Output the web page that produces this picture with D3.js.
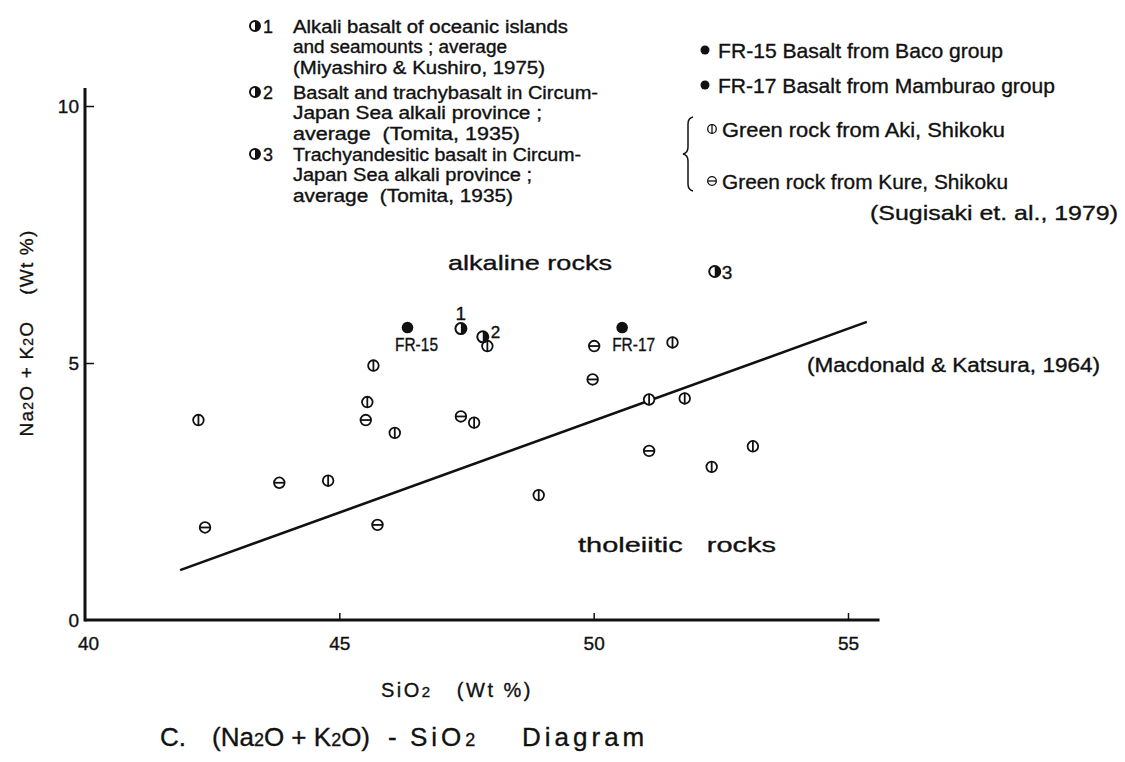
<!DOCTYPE html>
<html>
<head>
<meta charset="utf-8">
<script src="https://cdn.jsdelivr.net/npm/d3@7"></script>
<style>
  html, body { margin: 0; padding: 0; background: #fff; }
  svg { display: block; }
  text { font-family: "Liberation Sans", Arial, sans-serif; fill: #111; white-space: pre;
         stroke: #111; stroke-width: 0.35px; }
</style>
</head>
<body>
<svg id="chart" width="1125" height="762"></svg>
<script>
// ---------------- data ----------------
const xTicks = [40, 45, 50, 55];
const yTicks = [0, 5, 10];

// Green rock from Aki, Shikoku (Φ)
const akiSiO2 = [42.23, 45.67, 45.55, 46.09, 47.65, 47.91, 44.78, 48.92, 51.55, 51.09, 51.79, 53.13, 52.32];
const akiAlk  = [3.89, 4.95, 4.24, 3.64, 3.84, 5.33, 2.71, 2.43, 5.40, 4.29, 4.31, 3.38, 2.98];

// Green rock from Kure, Shikoku (Θ)
const kureSiO2 = [42.36, 43.82, 45.52, 45.75, 47.39, 50.01, 49.98, 51.09];
const kureAlk  = [1.80, 2.67, 3.89, 1.85, 3.96, 5.33, 4.68, 3.29];

// FR samples (filled)
const frNames = ["FR-15", "FR-17"];
const frSiO2  = [46.34, 50.56];
const frAlk   = [5.69, 5.69];

// Reference averages (half filled)
const refIds  = ["1", "2", "3"];
const refSiO2 = [47.39, 47.82, 52.38];
const refAlk  = [5.67, 5.51, 6.78];

// Macdonald & Katsura (1964) boundary
const boundarySiO2 = [41.87, 55.37];
const boundaryAlk  = [0.97, 5.80];

// legend texts
const refLegend = [
  ["Alkali basalt of oceanic islands", "and seamounts ; average", "(Miyashiro & Kushiro, 1975)"],
  ["Basalt and trachybasalt in Circum-", "Japan Sea alkali province ;", "average  (Tomita, 1935)"],
  ["Trachyandesitic basalt in Circum-", "Japan Sea alkali province ;", "average  (Tomita, 1935)"]
];
const sampleLegend = ["FR-15 Basalt from Baco group", "FR-17 Basalt from Mamburao group"];
const greenLegend = ["Green rock from Aki, Shikoku", "Green rock from Kure, Shikoku"];

// ---------------- drawing ----------------
const svg = d3.select("#chart");
const ink = "#111";

const x = d3.scaleLinear().domain([40, 55]).range([85, 848]);
const y = d3.scaleLinear().domain([0, 10]).range([620, 106]);
const xAxisEnd = 55.62, yAxisEnd = 10.35;

// axes
const gx = svg.append("g").attr("transform", `translate(0,${y(0)})`)
  .call(d3.axisBottom(x).tickValues(xTicks).tickSize(-7).tickPadding(17).tickFormat(d3.format("d")));
gx.select(".domain").remove();
gx.selectAll(".tick line").attr("stroke", ink).attr("stroke-width", 1.5)
  .filter(d => d === 40).remove();
gx.selectAll(".tick text").style("font-size", "19px").attr("fill", ink)
  .attr("dx", d => d === 40 ? 3 : 0);

const gy = svg.append("g").attr("transform", `translate(${x(40)},0)`)
  .call(d3.axisLeft(y).tickValues(yTicks).tickSize(-9).tickPadding(6).tickFormat(d3.format("d")));
gy.select(".domain").remove();
gy.selectAll(".tick line").attr("stroke", ink).attr("stroke-width", 1.5)
  .filter(d => d === 0).remove();
gy.selectAll(".tick text").style("font-size", "19px").attr("fill", ink);

svg.append("line")
  .attr("x1", x(40)).attr("x2", x(xAxisEnd)).attr("y1", y(0)).attr("y2", y(0))
  .attr("stroke", ink).attr("stroke-width", 3);
svg.append("line")
  .attr("x1", x(40)).attr("x2", x(40)).attr("y1", y(0) + 1.5).attr("y2", y(yAxisEnd))
  .attr("stroke", ink).attr("stroke-width", 3);

// boundary line
svg.append("path")
  .datum(boundarySiO2.map((v, i) => [v, boundaryAlk[i]]))
  .attr("d", d3.line().x(d => x(d[0])).y(d => y(d[1])))
  .attr("stroke", ink).attr("stroke-width", 2.6).attr("fill", "none");

// marker helpers
function phi(g, r, sw) {
  g.append("circle").attr("r", r).attr("fill", "#fff").attr("stroke", ink).attr("stroke-width", sw);
  g.append("line").attr("x1", 0).attr("x2", 0).attr("y1", -r - 0.5).attr("y2", r + 0.5)
    .attr("stroke", ink).attr("stroke-width", sw);
}
function theta(g, r, sw) {
  g.append("circle").attr("r", r).attr("fill", "#fff").attr("stroke", ink).attr("stroke-width", sw);
  g.append("line").attr("x1", -r).attr("x2", r).attr("y1", 0).attr("y2", 0)
    .attr("stroke", ink).attr("stroke-width", sw);
}
function half(g, r) {
  g.append("circle").attr("r", r).attr("fill", "#fff").attr("stroke", ink).attr("stroke-width", 2);
  g.append("path").attr("d", d3.arc().innerRadius(0).outerRadius(r).startAngle(0).endAngle(Math.PI)())
    .attr("fill", ink);
}

// Aki points
akiSiO2.forEach((v, i) => {
  const g = svg.append("g").attr("transform", `translate(${x(v)},${y(akiAlk[i])})`);
  phi(g, 5.3, 1.8);
});
// Kure points
kureSiO2.forEach((v, i) => {
  const g = svg.append("g").attr("transform", `translate(${x(v)},${y(kureAlk[i])})`);
  theta(g, 5.3, 1.8);
});
// reference averages
refSiO2.forEach((v, i) => {
  const g = svg.append("g").attr("transform", `translate(${x(v)},${y(refAlk[i])})`);
  half(g, 5.5);
  const lab = g.append("text").text(refIds[i]);
  if (i === 0) lab.attr("x", 0).attr("y", -9).attr("text-anchor", "middle").attr("font-size", 19);
  if (i === 1) lab.attr("x", 8).attr("y", 1).attr("font-size", 17);
  if (i === 2) lab.attr("x", 7).attr("y", 7).attr("font-size", 19);
});
// FR samples
frSiO2.forEach((v, i) => {
  const g = svg.append("g").attr("transform", `translate(${x(v)},${y(frAlk[i])})`);
  g.append("circle").attr("r", 5.8).attr("fill", ink);
  g.append("text").text(frNames[i])
    .attr("x", i === 0 ? 9 : -10).attr("y", 23)
    .attr("text-anchor", i === 0 ? "middle" : "start")
    .attr("font-size", 18).attr("textLength", 43).attr("lengthAdjust", "spacingAndGlyphs");
});

// region labels
svg.append("text").text("alkaline rocks").attr("x", 448).attr("y", 270)
  .attr("font-size", 21).attr("textLength", 164).attr("lengthAdjust", "spacingAndGlyphs");
svg.append("text").text("tholeiitic   rocks").attr("x", 578).attr("y", 552)
  .attr("font-size", 21).attr("textLength", 198).attr("lengthAdjust", "spacingAndGlyphs");
svg.append("text").text("(Macdonald & Katsura, 1964)").attr("x", 807).attr("y", 372)
  .attr("font-size", 20).attr("textLength", 293).attr("lengthAdjust", "spacingAndGlyphs");

// left legend
const leftStartY = [26, 92, 154];
const leftWidths = [[275, 214, 252], [305, 249, 227], [288, 239, 220]];
refLegend.forEach((lines, gi) => {
  const cy = leftStartY[gi];
  const mg = svg.append("g").attr("transform", `translate(255,${cy})`);
  half(mg, 5);
  svg.append("text").text(refIds[gi]).attr("x", 263).attr("y", cy + 7)
    .attr("font-size", 18);
  lines.forEach((t, li) => {
    svg.append("text").text(t).attr("x", 293).attr("y", cy + li * 20.5 + 6.5)
      .attr("font-size", 17.5)
      .attr("textLength", leftWidths[gi][li]).attr("lengthAdjust", "spacingAndGlyphs");
  });
});

// right legend
const sampleY = [50, 85];
const sampleW = [285, 337];
sampleLegend.forEach((t, i) => {
  svg.append("circle").attr("cx", 705).attr("cy", sampleY[i]).attr("r", 4.5).attr("fill", ink);
  svg.append("text").text(t).attr("x", 718).attr("y", sampleY[i] + 7.5)
    .attr("font-size", 21).attr("textLength", sampleW[i]).attr("lengthAdjust", "spacingAndGlyphs");
});
const greenY = [129, 181];
const greenW = [283, 286];
greenLegend.forEach((t, i) => {
  const g = svg.append("g").attr("transform", `translate(712,${greenY[i]})`);
  if (i === 0) phi(g, 4.3, 1.3); else theta(g, 4.3, 1.3);
  svg.append("text").text(t).attr("x", 722).attr("y", greenY[i] + 7.5)
    .attr("font-size", 21).attr("textLength", greenW[i]).attr("lengthAdjust", "spacingAndGlyphs");
});
// brace
const bp = d3.path();
bp.moveTo(693, 117);
bp.quadraticCurveTo(688, 118, 688, 124);
bp.lineTo(688, 147);
bp.quadraticCurveTo(688, 153, 683, 154);
bp.quadraticCurveTo(688, 155, 688, 161);
bp.lineTo(688, 184);
bp.quadraticCurveTo(688, 190, 693, 191);
svg.append("path").attr("d", bp.toString()).attr("fill", "none").attr("stroke", ink).attr("stroke-width", 1.5);
svg.append("text").text("(Sugisaki et. al., 1979)").attr("x", 870).attr("y", 220)
  .attr("font-size", 21).attr("textLength", 248).attr("lengthAdjust", "spacingAndGlyphs");

// y-axis label
const yl = svg.append("text")
  .attr("transform", "translate(33,333) rotate(-90)")
  .attr("text-anchor", "middle").attr("font-size", 19).attr("letter-spacing", 1.2);
yl.append("tspan").text("Na");
yl.append("tspan").text("2").attr("font-size", 14);
yl.append("tspan").text("O + K");
yl.append("tspan").text("2").attr("font-size", 14);
yl.append("tspan").text("O    (Wt %)");

// x-axis label
const xl = svg.append("text").attr("x", 457).attr("y", 697).attr("text-anchor", "middle")
  .attr("font-size", 20).attr("letter-spacing", 2.5);
xl.append("tspan").text("SiO");
xl.append("tspan").text("2").attr("font-size", 15);
xl.append("tspan").text("   (Wt %)");

// title
const tt = svg.append("text").attr("y", 746).attr("font-size", 26);
tt.append("tspan").attr("x", 160).text("C.");
tt.append("tspan").attr("x", 212).text("(Na");
tt.append("tspan").text("2").attr("font-size", 18);
tt.append("tspan").text("O + K");
tt.append("tspan").text("2").attr("font-size", 18);
tt.append("tspan").text("O)");
tt.append("tspan").attr("x", 388).text("-");
tt.append("tspan").attr("x", 410).text("SiO").attr("letter-spacing", 4);
tt.append("tspan").text("2").attr("font-size", 18);
tt.append("tspan").attr("x", 522).text("Diagram").attr("letter-spacing", 4);
</script>
</body>
</html>
